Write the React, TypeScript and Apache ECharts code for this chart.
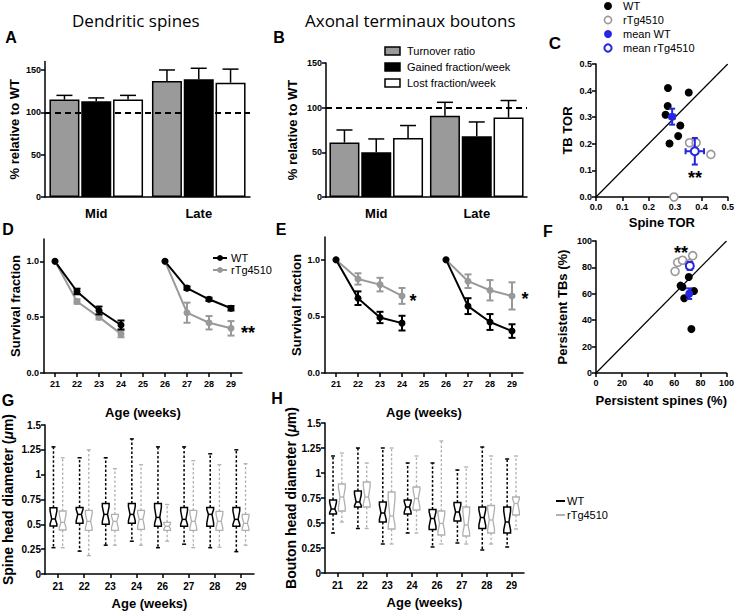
import React, { useEffect, useRef } from 'react';
import * as echarts from 'echarts';

const FONT = '"Liberation Sans", Arial, Helvetica, sans-serif';
const TITLE_FONT = '"Open Sans", "Noto Sans", sans-serif';
const BAR_GRAY = '#9a9a9a';
const LINE_GRAY = '#999999';
const BOX_GRAY = '#b0b0b0';
const BLUE = '#2626e2';

// ---- Panel A / B : bars (% relative to WT) ----
const groups = ['Mid', 'Late'];
const spineTurnover = [115, 137];
const spineTurnoverErr = [5, 13];
const spineGained = [113, 139];
const spineGainedErr = [4, 13];
const spineLost = [115, 135];
const spineLostErr = [5, 16];

const boutonTurnover = [61, 91];
const boutonTurnoverErr = [14, 15];
const boutonGained = [50, 68];
const boutonGainedErr = [15, 16];
const boutonLost = [66, 89];
const boutonLostErr = [14, 19];

// ---- Panel C : TOR scatter ----
const cWT = [[0.273, 0.41], [0.272, 0.342], [0.264, 0.309], [0.352, 0.393], [0.32, 0.269], [0.312, 0.229], [0.279, 0.201]];
const cTg = [[0.355, 0.204], [0.38, 0.204], [0.436, 0.16], [0.296, 0.0]];
const cMeanWT = [0.289, 0.302, 0.01, 0.03];
const cMeanTg = [0.375, 0.172, 0.035, 0.05];

// ---- Panel D / E : survival fraction ----
const ages = ['21', '22', '23', '24', '25', '26', '27', '28', '29'];
const dWT = [1, 0.73, 0.56, 0.43, null, 1, 0.76, 0.66, 0.58];
const dWTErr = [0, 0.025, 0.035, 0.04, null, 0, 0.015, 0.015, 0.02];
const dTg = [1, 0.64, 0.5, 0.35, null, 1, 0.54, 0.45, 0.4];
const dTgErr = [0, 0.02, 0.02, 0.03, null, 0, 0.09, 0.06, 0.065];
const eWT = [1, 0.66, 0.49, 0.44, null, 1, 0.59, 0.45, 0.37];
const eWTErr = [0, 0.06, 0.05, 0.065, null, 0, 0.07, 0.07, 0.06];
const eTg = [1, 0.83, 0.78, 0.68, null, 1, 0.81, 0.73, 0.68];
const eTgErr = [0, 0.05, 0.06, 0.07, null, 0, 0.06, 0.09, 0.12];

// ---- Panel F : persistence scatter ----
const fWT = [[71.1, 72.7], [64.8, 66.2], [66.3, 65.2], [75.1, 62.1], [67.6, 56.6], [73.1, 33.3]];
const fTg = [[60.6, 77], [62.6, 83.8], [66.3, 85.4], [74.1, 88.9], [71.4, 82.8]];
const fMeanWT = [71.4, 60.1, 1.5, 4];
const fMeanTg = [71.9, 81.1, 1.5, 3];

// ---- Panel G / H : box plots [min, q1, median, q3, max] ----
const boxAges = ['21', '22', '23', '24', '26', '27', '28', '29'];
const gWT = [
  [0.265, 0.483, 0.554, 0.668, 1.28],
  [0.23, 0.51, 0.6, 0.67, 1.17],
  [0.29, 0.5, 0.6, 0.71, 1.17],
  [0.33, 0.51, 0.6, 0.71, 1.36],
  [0.265, 0.48, 0.57, 0.71, 1.28],
  [0.3, 0.48, 0.55, 0.67, 1.28],
  [0.265, 0.48, 0.6, 0.67, 1.21],
  [0.225, 0.48, 0.55, 0.67, 1.25],
];
const gTg = [
  [0.265, 0.443, 0.52, 0.634, 1.17],
  [0.185, 0.44, 0.53, 0.64, 1.25],
  [0.29, 0.44, 0.53, 0.6, 1.06],
  [0.29, 0.45, 0.55, 0.64, 1.1],
  [0.33, 0.44, 0.48, 0.52, 0.7],
  [0.265, 0.44, 0.53, 0.64, 1.14],
  [0.27, 0.44, 0.53, 0.63, 1.1],
  [0.29, 0.44, 0.51, 0.6, 1.11],
];
const hWT = [
  [0.4, 0.59, 0.64, 0.73, 1.17],
  [0.445, 0.66, 0.71, 0.82, 1.25],
  [0.29, 0.51, 0.6, 0.71, 1.25],
  [0.4, 0.59, 0.66, 0.73, 1.1],
  [0.26, 0.435, 0.545, 0.635, 1.1],
  [0.3, 0.52, 0.61, 0.705, 1.03],
  [0.23, 0.445, 0.555, 0.66, 1.26],
  [0.26, 0.4, 0.51, 0.66, 1.14],
];
const hTg = [
  [0.51, 0.62, 0.76, 0.89, 1.2],
  [0.445, 0.66, 0.76, 0.91, 1.1],
  [0.29, 0.44, 0.57, 0.81, 1.25],
  [0.4, 0.63, 0.745, 0.86, 1.17],
  [0.29, 0.38, 0.495, 0.62, 1.32],
  [0.29, 0.37, 0.48, 0.66, 1.06],
  [0.29, 0.4, 0.53, 0.675, 1.17],
  [0.44, 0.58, 0.695, 0.76, 1.17],
];

// ---------- helpers ----------
const axisLine = { show: true, onZero: false, lineStyle: { color: '#000', width: 1.5 } };
const tick = (len: number, extra: any = {}) => ({ show: true, length: len, lineStyle: { color: '#000', width: 1.5 }, ...extra });
const lab = (size: number, extra: any = {}) => ({ color: '#000', fontFamily: FONT, fontWeight: 'bold', fontSize: size, ...extra });
const nameStyle = { color: '#000', fontFamily: FONT, fontWeight: 'bold', fontSize: 13 };
const boxNameStyle = {
  color: '#000', fontFamily: FONT, fontWeight: 'bold', fontSize: 14,
  rich: { mu: { color: '#000', fontFamily: FONT, fontWeight: 'bold', fontStyle: 'italic', fontSize: 14 } },
};

function barErr(offset: number) {
  return (params: any, api: any) => {
    const base = api.coord([api.value(0), api.value(1)]);
    const top = api.coord([api.value(0), api.value(1) + api.value(2)]);
    const x = base[0] + offset;
    const st = { stroke: '#000', lineWidth: 1.5 };
    return {
      type: 'group',
      children: [
        { type: 'line', shape: { x1: x, y1: base[1], x2: x, y2: top[1] }, style: st },
        { type: 'line', shape: { x1: x - 8, y1: top[1], x2: x + 8, y2: top[1] }, style: st },
      ],
    };
  };
}

function vErr(color: string, width: number, cap: number) {
  return (params: any, api: any) => {
    const x = api.value(0), y = api.value(1), e = api.value(2);
    const a = api.coord([x, y + e]);
    const b = api.coord([x, y - e]);
    const st = { stroke: color, lineWidth: width };
    return {
      type: 'group',
      children: [
        { type: 'line', shape: { x1: a[0], y1: a[1], x2: b[0], y2: b[1] }, style: st },
        { type: 'line', shape: { x1: a[0] - cap, y1: a[1], x2: a[0] + cap, y2: a[1] }, style: st },
        { type: 'line', shape: { x1: b[0] - cap, y1: b[1], x2: b[0] + cap, y2: b[1] }, style: st },
      ],
    };
  };
}

function xyErr(color: string, width: number, cap: number) {
  return (params: any, api: any) => {
    const x = api.value(0), y = api.value(1), ex = api.value(2), ey = api.value(3);
    const t = api.coord([x, y + ey]);
    const bt = api.coord([x, y - ey]);
    const l = api.coord([x - ex, y]);
    const r = api.coord([x + ex, y]);
    const st = { stroke: color, lineWidth: width };
    return {
      type: 'group',
      children: [
        { type: 'line', shape: { x1: t[0], y1: t[1], x2: bt[0], y2: bt[1] }, style: st },
        { type: 'line', shape: { x1: t[0] - cap, y1: t[1], x2: t[0] + cap, y2: t[1] }, style: st },
        { type: 'line', shape: { x1: bt[0] - cap, y1: bt[1], x2: bt[0] + cap, y2: bt[1] }, style: st },
        { type: 'line', shape: { x1: l[0], y1: l[1], x2: r[0], y2: r[1] }, style: st },
        { type: 'line', shape: { x1: l[0], y1: l[1] - cap, x2: l[0], y2: l[1] + cap }, style: st },
        { type: 'line', shape: { x1: r[0], y1: r[1] - cap, x2: r[0], y2: r[1] + cap }, style: st },
      ],
    };
  };
}

function boxRender(offset: number, color: string, lw: number) {
  return (params: any, api: any) => {
    const i = api.value(0);
    const mn = api.value(1), q1 = api.value(2), md = api.value(3), q3 = api.value(4), mx = api.value(5);
    const c = (v: number) => api.coord([i, v]);
    const x = c(md)[0] + offset;
    const yMin = c(mn)[1], yQ1 = c(q1)[1], yMd = c(md)[1], yQ3 = c(q3)[1], yMx = c(mx)[1];
    const yNhi = c(md + 0.72 * (q3 - md))[1];
    const yNlo = c(md - 0.72 * (md - q1))[1];
    const w = 3.4, wn = 1.8, cap = 2;
    const solid = { stroke: color, lineWidth: lw, fill: 'none' };
    const dashed = { stroke: color, lineWidth: lw, lineDash: [2.5, 2] };
    return {
      type: 'group',
      children: [
        { type: 'line', shape: { x1: x, y1: yQ3, x2: x, y2: yMx }, style: dashed },
        { type: 'line', shape: { x1: x, y1: yQ1, x2: x, y2: yMin }, style: dashed },
        { type: 'line', shape: { x1: x - cap, y1: yMx, x2: x + cap, y2: yMx }, style: { stroke: color, lineWidth: lw } },
        { type: 'line', shape: { x1: x - cap, y1: yMin, x2: x + cap, y2: yMin }, style: { stroke: color, lineWidth: lw } },
        {
          type: 'polygon',
          shape: {
            points: [
              [x - w, yQ1], [x - w, yNlo], [x - wn, yMd], [x - w, yNhi], [x - w, yQ3],
              [x + w, yQ3], [x + w, yNhi], [x + wn, yMd], [x + w, yNlo], [x + w, yQ1],
            ],
          },
          style: { stroke: color, lineWidth: lw, fill: '#fff' },
        },
        { type: 'line', shape: { x1: x - wn, y1: yMd, x2: x + wn, y2: yMd }, style: solid },
      ],
    };
  };
}

function buildOption() {
  const barSeries = (xi: number, data: number[], color: string, name: string, extra: any = {}) => ({
    type: 'bar', name, xAxisIndex: xi, yAxisIndex: xi, data,
    barWidth: 30, barGap: '6%',
    itemStyle: { color, borderColor: '#000', borderWidth: 1.5 },
    ...extra,
  });
  const dashLine = {
    silent: true, symbol: 'none', label: { show: false },
    lineStyle: { type: [6, 4], color: '#000', width: 2 },
    data: [{ yAxis: 100 }],
  };
  const errSeries = (xi: number, vals: number[], errs: number[], offset: number) => ({
    type: 'custom', xAxisIndex: xi, yAxisIndex: xi,
    data: vals.map((v, i) => [i, v, errs[i]]),
    encode: { x: 0, y: 1 },
    renderItem: barErr(offset),
    z: 5,
  });
  const off = 31.8;

  const lineSeries = (xi: number, data: (number | null)[], color: string, name: string) => ({
    type: 'line', name, xAxisIndex: xi, yAxisIndex: xi, data,
    connectNulls: false, symbol: 'circle', symbolSize: 7,
    lineStyle: { color, width: 2 }, itemStyle: { color },
    z: 4,
  });
  const lineErr = (xi: number, data: (number | null)[], errs: (number | null)[], color: string) => ({
    type: 'custom', xAxisIndex: xi, yAxisIndex: xi,
    data: data.map((v, i) => [i, v, errs[i]]).filter((d) => d[1] !== null && (d[2] as number) > 0),
    encode: { x: 0, y: 1 },
    renderItem: vErr(color, 2, 3.5),
    z: 5,
  });
  const boxSeries = (xi: number, data: number[][], offset: number, color: string, lw: number) => ({
    type: 'custom', xAxisIndex: xi, yAxisIndex: xi,
    data: data.map((d, i) => [i, ...d]),
    encode: { x: 0, y: [1, 2, 3, 4, 5] },
    renderItem: boxRender(offset, color, lw),
  });

  const survY = (gi: number, gap: number) => ({
    gridIndex: gi, type: 'value', min: 0, max: 1.2, interval: 0.5,
    axisLine, splitLine: { show: false },
    axisTick: tick(4, { customValues: [0, 0.5, 1] }),
    axisLabel: lab(9, { customValues: [0, 0.5, 1], margin: 5, formatter: (v: number) => v.toFixed(1) }),
    name: 'Survival fraction', nameLocation: 'middle', nameGap: gap, nameTextStyle: nameStyle,
  });
  const survX = (gi: number) => ({
    gridIndex: gi, type: 'category', data: ages, boundaryGap: true,
    axisLine, axisTick: tick(4, { alignWithLabel: true }),
    axisLabel: lab(9, { margin: 6 }),
    name: 'Age (weeks)', nameLocation: 'middle', nameGap: 33, nameTextStyle: nameStyle,
  });
  const barY = (gi: number, max: number, gap: number) => ({
    gridIndex: gi, type: 'value', min: 0, max, interval: 50,
    axisLine, splitLine: { show: false },
    axisTick: tick(4, { customValues: [0, 50, 100, 150] }),
    axisLabel: lab(9, { customValues: [0, 50, 100, 150], margin: 4 }),
    name: '% relative to WT', nameLocation: 'middle', nameGap: gap, nameTextStyle: nameStyle,
  });
  const barX = (gi: number) => ({
    gridIndex: gi, type: 'category', data: groups,
    axisLine, axisTick: { show: false },
    axisLabel: lab(13, { margin: 10 }),
  });
  const boxY = (gi: number, name: string, gap: number) => ({
    gridIndex: gi, type: 'value', min: 0, max: 1.5, interval: 0.25,
    axisLine, splitLine: { show: false }, axisTick: tick(4),
    axisLabel: lab(10, { margin: 4 }),
    name, nameLocation: 'middle', nameGap: gap, nameTextStyle: boxNameStyle,
  });
  const boxX = (gi: number) => ({
    gridIndex: gi, type: 'category', data: boxAges, boundaryGap: true,
    axisLine, axisTick: tick(4, { alignWithLabel: true }),
    axisLabel: lab(10, { margin: 7 }),
    name: 'Age (weeks)', nameLocation: 'middle', nameGap: 23, nameTextStyle: nameStyle,
  });

  const txt = (text: string, x: number, y: number, size: number, extra: any = {}) => ({
    type: 'text', x, y, silent: true,
    style: { text, fontSize: size, fontFamily: FONT, fontWeight: 'bold', fill: '#000', align: 'center', verticalAlign: 'middle', ...extra },
  });
  const legText = (text: string, x: number, y: number) => ({
    type: 'text', x, y, silent: true,
    style: { text, fontSize: 11, fontFamily: FONT, fill: '#000', align: 'left', verticalAlign: 'middle' },
  });

  return {
    animation: false,
    backgroundColor: '#fff',
    textStyle: { fontFamily: FONT },
    grid: [
      { left: 45, top: 61.5, width: 205, height: 135.5 },
      { left: 326, top: 63, width: 201, height: 134 },
      { left: 596, top: 64, width: 133, height: 133 },
      { left: 44, top: 239, width: 198, height: 134 },
      { left: 325, top: 237, width: 198, height: 136 },
      { left: 596, top: 241, width: 133, height: 132 },
      { left: 44, top: 425, width: 210, height: 149 },
      { left: 325, top: 423, width: 199, height: 150 },
    ],
    xAxis: [
      barX(0),
      barX(1),
      {
        gridIndex: 2, type: 'value', min: 0, max: 0.5, interval: 0.1,
        axisLine, splitLine: { show: false }, axisTick: tick(4),
        axisLabel: lab(9, { margin: 5, formatter: (v: number) => v.toFixed(1) }),
        name: 'Spine TOR', nameLocation: 'middle', nameGap: 19, nameTextStyle: nameStyle,
      },
      survX(3),
      survX(4),
      {
        gridIndex: 5, type: 'value', min: 0, max: 100, interval: 20,
        axisLine, splitLine: { show: false }, axisTick: tick(4),
        axisLabel: lab(9, { margin: 5 }),
        name: 'Persistent spines (%)', nameLocation: 'middle', nameGap: 21, nameTextStyle: nameStyle,
      },
      boxX(6),
      boxX(7),
    ],
    yAxis: [
      barY(0, 160, 24),
      barY(1, 150, 27),
      {
        gridIndex: 2, type: 'value', min: 0, max: 0.5, interval: 0.1,
        axisLine, splitLine: { show: false }, axisTick: tick(4),
        axisLabel: lab(9, { margin: 4, formatter: (v: number) => v.toFixed(1) }),
        name: 'TB TOR', nameLocation: 'middle', nameGap: 22, nameTextStyle: nameStyle,
      },
      survY(3, 22),
      survY(4, 22),
      {
        gridIndex: 5, type: 'value', min: 0, max: 100, interval: 20,
        axisLine, splitLine: { show: false }, axisTick: tick(4),
        axisLabel: lab(9, { margin: 4 }),
        name: 'Persistent TBs (%)', nameLocation: 'middle', nameGap: 27, nameTextStyle: nameStyle,
      },
      boxY(6, 'Spine head diameter ({mu|μ}m)', 30),
      boxY(7, 'Bouton head diameter ({mu|μ}m)', 27),
    ],
    series: [
      // A
      barSeries(0, spineTurnover, BAR_GRAY, 'Turnover ratio'),
      barSeries(0, spineGained, '#000', 'Gained fraction/week'),
      barSeries(0, spineLost, '#fff', 'Lost fraction/week', { markLine: dashLine }),
      errSeries(0, spineTurnover, spineTurnoverErr, -off),
      errSeries(0, spineGained, spineGainedErr, 0),
      errSeries(0, spineLost, spineLostErr, off),
      // B
      barSeries(1, boutonTurnover, BAR_GRAY, 'Turnover ratio'),
      barSeries(1, boutonGained, '#000', 'Gained fraction/week'),
      barSeries(1, boutonLost, '#fff', 'Lost fraction/week', { markLine: dashLine }),
      errSeries(1, boutonTurnover, boutonTurnoverErr, -off),
      errSeries(1, boutonGained, boutonGainedErr, 0),
      errSeries(1, boutonLost, boutonLostErr, off),
      // C
      {
        type: 'line', xAxisIndex: 2, yAxisIndex: 2, data: [[0, 0], [0.5, 0.5]],
        showSymbol: false, symbol: 'none', lineStyle: { color: '#000', width: 1.2 }, z: 1,
      },
      {
        type: 'scatter', name: 'WT', xAxisIndex: 2, yAxisIndex: 2, data: cWT,
        symbol: 'circle', symbolSize: 8, itemStyle: { color: '#000', opacity: 1 },
      },
      {
        type: 'scatter', name: 'rTg4510', xAxisIndex: 2, yAxisIndex: 2, data: cTg,
        symbol: 'circle', symbolSize: 8, itemStyle: { color: '#fff', borderColor: LINE_GRAY, borderWidth: 1.6, opacity: 1 },
      },
      {
        type: 'custom', xAxisIndex: 2, yAxisIndex: 2, data: [cMeanWT, cMeanTg],
        encode: { x: 0, y: 1 }, renderItem: xyErr(BLUE, 2, 3), z: 5,
      },
      {
        type: 'scatter', name: 'mean WT', xAxisIndex: 2, yAxisIndex: 2, data: [cMeanWT.slice(0, 2)],
        symbol: 'circle', symbolSize: 8, itemStyle: { color: BLUE, opacity: 1 }, z: 6,
      },
      {
        type: 'scatter', name: 'mean rTg4510', xAxisIndex: 2, yAxisIndex: 2, data: [cMeanTg.slice(0, 2)],
        symbol: 'circle', symbolSize: 8, itemStyle: { color: '#fff', borderColor: BLUE, borderWidth: 2, opacity: 1 }, z: 6,
      },
      // D
      lineSeries(3, dTg, LINE_GRAY, 'rTg4510'),
      lineErr(3, dTg, dTgErr, LINE_GRAY),
      lineSeries(3, dWT, '#000', 'WT'),
      lineErr(3, dWT, dWTErr, '#000'),
      // E
      lineSeries(4, eTg, LINE_GRAY, 'rTg4510'),
      lineErr(4, eTg, eTgErr, LINE_GRAY),
      lineSeries(4, eWT, '#000', 'WT'),
      lineErr(4, eWT, eWTErr, '#000'),
      // F
      {
        type: 'line', xAxisIndex: 5, yAxisIndex: 5, data: [[0, 0], [100, 100]],
        showSymbol: false, symbol: 'none', lineStyle: { color: '#000', width: 1.2 }, z: 1,
      },
      {
        type: 'scatter', name: 'WT', xAxisIndex: 5, yAxisIndex: 5, data: fWT,
        symbol: 'circle', symbolSize: 8, itemStyle: { color: '#000', opacity: 1 },
      },
      {
        type: 'scatter', name: 'rTg4510', xAxisIndex: 5, yAxisIndex: 5, data: fTg,
        symbol: 'circle', symbolSize: 8, itemStyle: { color: '#fff', borderColor: LINE_GRAY, borderWidth: 1.6, opacity: 1 },
      },
      {
        type: 'custom', xAxisIndex: 5, yAxisIndex: 5, data: [fMeanWT, fMeanTg],
        encode: { x: 0, y: 1 }, renderItem: xyErr(BLUE, 2, 3), z: 5,
      },
      {
        type: 'scatter', name: 'mean WT', xAxisIndex: 5, yAxisIndex: 5, data: [fMeanWT.slice(0, 2)],
        symbol: 'circle', symbolSize: 8, itemStyle: { color: BLUE, opacity: 1 }, z: 6,
      },
      {
        type: 'scatter', name: 'mean rTg4510', xAxisIndex: 5, yAxisIndex: 5, data: [fMeanTg.slice(0, 2)],
        symbol: 'circle', symbolSize: 8, itemStyle: { color: '#fff', borderColor: BLUE, borderWidth: 2, opacity: 1 }, z: 6,
      },
      // G
      boxSeries(6, gWT, -4.6, '#000', 1.5),
      boxSeries(6, gTg, 4.6, BOX_GRAY, 1.3),
      // H
      boxSeries(7, hWT, -4.4, '#000', 1.5),
      boxSeries(7, hTg, 4.4, BOX_GRAY, 1.3),
    ],
    graphic: [
      // titles
      { type: 'text', x: 72, y: 20, silent: true, style: { text: 'Dendritic spines', fontSize: 17, fontFamily: TITLE_FONT, fill: '#000', align: 'left', verticalAlign: 'middle' } },
      { type: 'text', x: 305, y: 20, silent: true, style: { text: 'Axonal terminaux boutons', fontSize: 17, fontFamily: TITLE_FONT, fill: '#000', align: 'left', verticalAlign: 'middle' } },
      // panel letters
      txt('A', 11, 37, 16),
      txt('B', 279, 37, 16),
      txt('C', 555, 43, 17),
      txt('D', 8, 229, 16),
      txt('E', 281, 229, 16),
      txt('F', 548, 231, 16),
      txt('G', 8, 400, 16),
      txt('H', 277, 398, 16),
      // B legend
      { type: 'rect', shape: { x: 385, y: 47, width: 15, height: 8 }, style: { fill: BAR_GRAY, stroke: '#000', lineWidth: 1.5 } },
      legText('Turnover ratio', 407, 51),
      { type: 'rect', shape: { x: 385, y: 63, width: 15, height: 8 }, style: { fill: '#000', stroke: '#000', lineWidth: 1.5 } },
      legText('Gained fraction/week', 407, 67),
      { type: 'rect', shape: { x: 385, y: 79, width: 15, height: 8 }, style: { fill: '#fff', stroke: '#000', lineWidth: 1.5 } },
      legText('Lost fraction/week', 407, 83),
      // C legend
      { type: 'circle', shape: { cx: 608, cy: 6, r: 4 }, style: { fill: '#000' } },
      legText('WT', 623, 6),
      { type: 'circle', shape: { cx: 608, cy: 20, r: 3.6 }, style: { fill: '#fff', stroke: LINE_GRAY, lineWidth: 1.6 } },
      legText('rTg4510', 623, 20),
      { type: 'circle', shape: { cx: 608, cy: 34, r: 4 }, style: { fill: BLUE } },
      legText('mean WT', 623, 34),
      { type: 'circle', shape: { cx: 608, cy: 48, r: 3.6 }, style: { fill: '#fff', stroke: BLUE, lineWidth: 2 } },
      legText('mean rTg4510', 623, 48),
      // D legend
      { type: 'line', shape: { x1: 213, y1: 258, x2: 227, y2: 258 }, style: { stroke: '#000', lineWidth: 2 } },
      { type: 'circle', shape: { cx: 220, cy: 258, r: 3 }, style: { fill: '#000' } },
      legText('WT', 231, 258),
      { type: 'line', shape: { x1: 213, y1: 270, x2: 227, y2: 270 }, style: { stroke: LINE_GRAY, lineWidth: 2 } },
      { type: 'circle', shape: { cx: 220, cy: 270, r: 3 }, style: { fill: LINE_GRAY } },
      legText('rTg4510', 231, 270),
      // G/H legend
      { type: 'line', shape: { x1: 556, y1: 501, x2: 565, y2: 501 }, style: { stroke: '#000', lineWidth: 2 } },
      legText('WT', 567, 501),
      { type: 'line', shape: { x1: 556, y1: 515, x2: 565, y2: 515 }, style: { stroke: BOX_GRAY, lineWidth: 2 } },
      legText('rTg4510', 567, 515),
      // significance marks
      txt('**', 695, 178, 18),
      txt('**', 248, 333, 18),
      txt('*', 413, 301, 18),
      txt('*', 525, 299, 18),
      txt('**', 681, 253, 18),
    ],
  };
}

export default function App() {
  const ref = useRef<HTMLDivElement>(null);
  useEffect(() => {
    if (!ref.current) return;
    const chart = echarts.init(ref.current, null, { renderer: 'svg' });
    chart.setOption(buildOption() as any);
    return () => chart.dispose();
  }, []);
  return (
    <div
      ref={ref}
      style={{ position: 'absolute', left: 0, top: 0, width: 737, height: 613, background: '#fff' }}
    />
  );
}
